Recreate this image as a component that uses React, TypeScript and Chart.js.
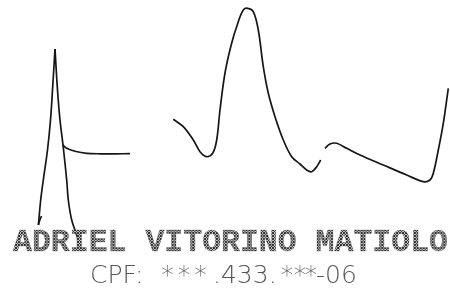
import React, { useEffect, useRef } from "react";
import { Chart, registerables } from "chart.js";

Chart.register(...registerables);

// Signature strokes (x, y in image pixels; y grows downward)
const spikeLeftX = [55, 52.5, 50.5, 47.5, 43.3, 40.7, 38.4];
const spikeLeftY = [49, 90, 120, 150, 180, 200, 225];
const arrowX = [38.4, 39.5, 41.5];
const arrowY = [225, 221, 216];
const spikeRightX = [55, 57.5, 60, 63, 66.7, 68.3, 71.7, 76.7, 80];
const spikeRightY = [49, 90, 120, 145, 180, 200, 220, 235, 246];
const tailX = [62.7, 66.7, 76, 86.7, 100, 115, 130];
const tailY = [145, 148.3, 151.5, 153.3, 153.8, 153.8, 153.7];
const waveX = [173.3, 183.3, 193.3, 200, 206.7, 212.7, 216.7, 220, 225, 231.7, 238.3, 243.3, 247.7, 253.3, 258.3, 263.3, 268.3, 275, 283.3, 291.7, 300, 306.7, 311.7, 316.7, 320.7];
const waveY = [119.3, 126.7, 140, 151.7, 156.7, 153.3, 140, 110, 73, 43, 21.7, 10, 8.3, 11.7, 30, 66.7, 93.3, 116.7, 140, 156.7, 164, 170, 171.7, 166.7, 160];
const hookX = [325, 330, 336.7, 346.7, 360, 383.3, 406.7, 423.3, 430, 433.3, 438.3, 443.3, 448.3];
const hookY = [148.3, 144, 143.3, 148.3, 155, 165, 175, 181.7, 180, 173.3, 150, 123.3, 88.3];

const strokes = [
  [spikeLeftX, spikeLeftY],
  [arrowX, arrowY],
  [spikeRightX, spikeRightY],
  [tailX, tailY],
  [waveX, waveY],
  [hookX, hookY],
];

const nameText = "ADRIEL VITORINO MATIOLO";
const cpfLabel = "CPF:";
const cpfMid = ".433.";
const cpfEnd = "-06";
const maskChar = "*";

function makeStipple(ctx: CanvasRenderingContext2D) {
  const c = document.createElement("canvas");
  c.width = 3;
  c.height = 3;
  const g = c.getContext("2d")!;
  g.fillStyle = "#c4c4c4";
  g.fillRect(0, 0, 3, 3);
  g.fillStyle = "#303030";
  g.fillRect(0, 0, 1, 1);
  g.fillRect(2, 0, 1, 1);
  g.fillRect(1, 1, 1, 1);
  g.fillRect(0, 2, 1, 1);
  g.fillRect(2, 2, 1, 1);
  return ctx.createPattern(c, "repeat");
}

const textPlugin = {
  id: "signatureText",
  afterDraw(chart: any) {
    const ctx: CanvasRenderingContext2D = chart.ctx;
    ctx.save();
    // name
    ctx.font = 'bold 32px "Liberation Mono"';
    ctx.textBaseline = "alphabetic";
    ctx.textAlign = "left";
    const m = ctx.measureText(nameText);
    const capH = ctx.measureText("H").actualBoundingBoxAscent;
    const sx = 435 / m.width;
    const sy = 21 / capH;
    ctx.save();
    ctx.translate(13, 251);
    ctx.scale(sx, sy);
    ctx.fillStyle = makeStipple(ctx) || "#777";
    ctx.fillText(nameText, 0, 0);
    ctx.lineWidth = 0.5;
    ctx.strokeStyle = "rgba(70,70,70,0.55)";
    ctx.strokeText(nameText, 0, 0);
    ctx.restore();

    // CPF line
    ctx.font = '200 25px "DejaVu Sans"';
    ctx.fillStyle = "#555";
    const base = 283;
    ctx.fillText(cpfLabel, 90, base);
    ctx.textAlign = "center";
    [167.5, 184, 200.5, 287, 300, 311].forEach((cx) => ctx.fillText(maskChar, cx, base));
    ctx.textAlign = "left";
    ctx.fillText(cpfMid, 213, base);
    ctx.fillText(cpfEnd, 316, base);
    ctx.restore();
  },
};

export default function App() {
  const ref = useRef<HTMLCanvasElement>(null);
  useEffect(() => {
    const datasets = strokes.map(([xs, ys]) => ({
      data: xs.map((x, i) => ({ x, y: ys[i] })),
      showLine: true,
      pointRadius: 0,
      borderColor: "#161616",
      borderWidth: 1.7,
      tension: 0.35,
      fill: false,
    }));
    const chart = new Chart(ref.current!, {
      type: "scatter",
      data: { datasets },
      options: {
        animation: false,
        responsive: false,
        layout: { padding: 0 },
        plugins: { legend: { display: false }, tooltip: { enabled: false } },
        scales: {
          x: { type: "linear", min: 0, max: 450, display: false },
          y: { type: "linear", min: 0, max: 289, reverse: true, display: false },
        },
      },
      plugins: [textPlugin],
    });
    return () => chart.destroy();
  }, []);
  return (
    <div style={{ position: "absolute", left: 0, top: 0, width: 450, height: 289, background: "#fff" }}>
      <canvas ref={ref} width={450} height={289} />
    </div>
  );
}
